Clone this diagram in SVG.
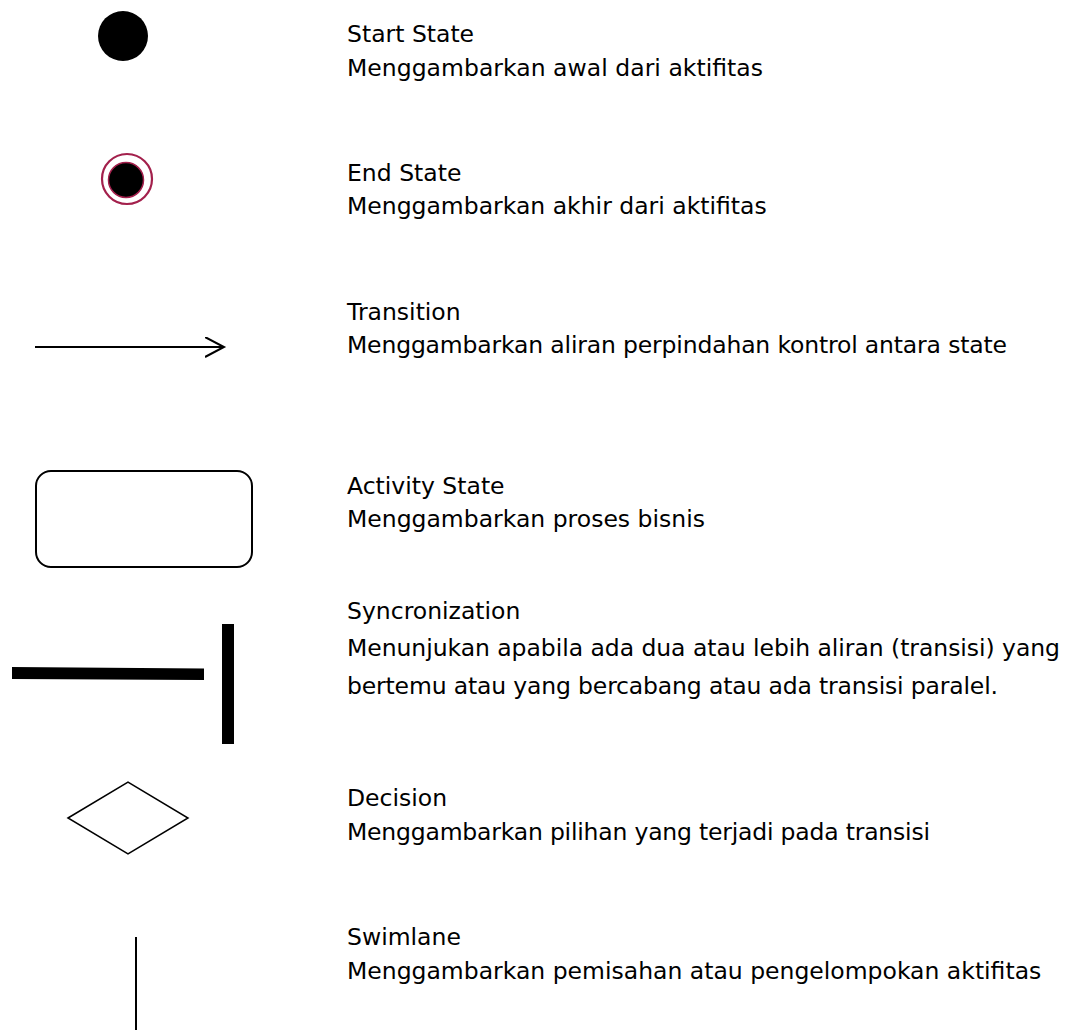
<svg xmlns="http://www.w3.org/2000/svg" width="1065" height="1030" viewBox="0 0 1065 1030">
<style>
text{font-family:"DejaVu Sans",Verdana,sans-serif;font-size:23.5px;fill:#000}
.ln{stroke:#000;stroke-width:2;fill:none}
</style>
<defs>
<marker id="open" markerUnits="userSpaceOnUse" markerWidth="24" markerHeight="24" refX="19" refY="10" orient="auto" viewBox="0 0 24 24">
<path d="M0,0 L19,10 L0,20" fill="none" stroke="#000" stroke-width="2"/>
</marker>
</defs>
<rect width="1065" height="1030" fill="#fff"/>
<g id="start-state">
<circle cx="123" cy="36" r="25" fill="#000"/>
<text x="347" y="42">Start State</text>
<text x="347" y="76" textLength="416">Menggambarkan awal dari aktifitas</text>
</g>
<g id="end-state">
<circle cx="127" cy="179" r="25" fill="none" stroke="#a3204c" stroke-width="2.2"/>
<circle cx="126" cy="180" r="17.5" fill="#000" stroke="#a3204c" stroke-width="1.5"/>
<text x="347" y="181">End State</text>
<text x="347" y="214">Menggambarkan akhir dari aktifitas</text>
</g>
<g id="transition">
<text x="347" y="320">Transition</text>
<text x="347" y="353" textLength="660">Menggambarkan aliran perpindahan kontrol antara state</text>
</g>
<g id="activity-state">
<rect x="36" y="471" width="216" height="96" rx="15" class="ln"/>
<text x="347" y="494">Activity State</text>
<text x="347" y="527">Menggambarkan proses bisnis</text>
</g>
<g id="synchronization">
<polygon points="12,667 204,668.5 204,680 12,679" fill="#000"/>
<rect x="222" y="624" width="12" height="120" fill="#000"/>
<text x="347" y="619">Syncronization</text>
<text x="347" y="656" textLength="713">Menunjukan apabila ada dua atau lebih aliran (transisi) yang</text>
<text x="347" y="694" textLength="651">bertemu atau yang bercabang atau ada transisi paralel.</text>
</g>
<g id="decision">
<polygon points="68,818 128,782 188,818 128,854" fill="#fff" stroke="#000" stroke-width="1.5"/>
<text x="347" y="806">Decision</text>
<text x="347" y="840" textLength="583">Menggambarkan pilihan yang terjadi pada transisi</text>
</g>
<g id="swimlane">
<line x1="136" y1="937" x2="136" y2="1030" class="ln"/>
<text x="347" y="945">Swimlane</text>
<text x="347" y="979">Menggambarkan pemisahan atau pengelompokan aktifitas</text>
</g>
<g id="connectors">
<line x1="35" y1="347" x2="224" y2="347" class="ln" marker-end="url(#open)"/>
</g>
</svg>
